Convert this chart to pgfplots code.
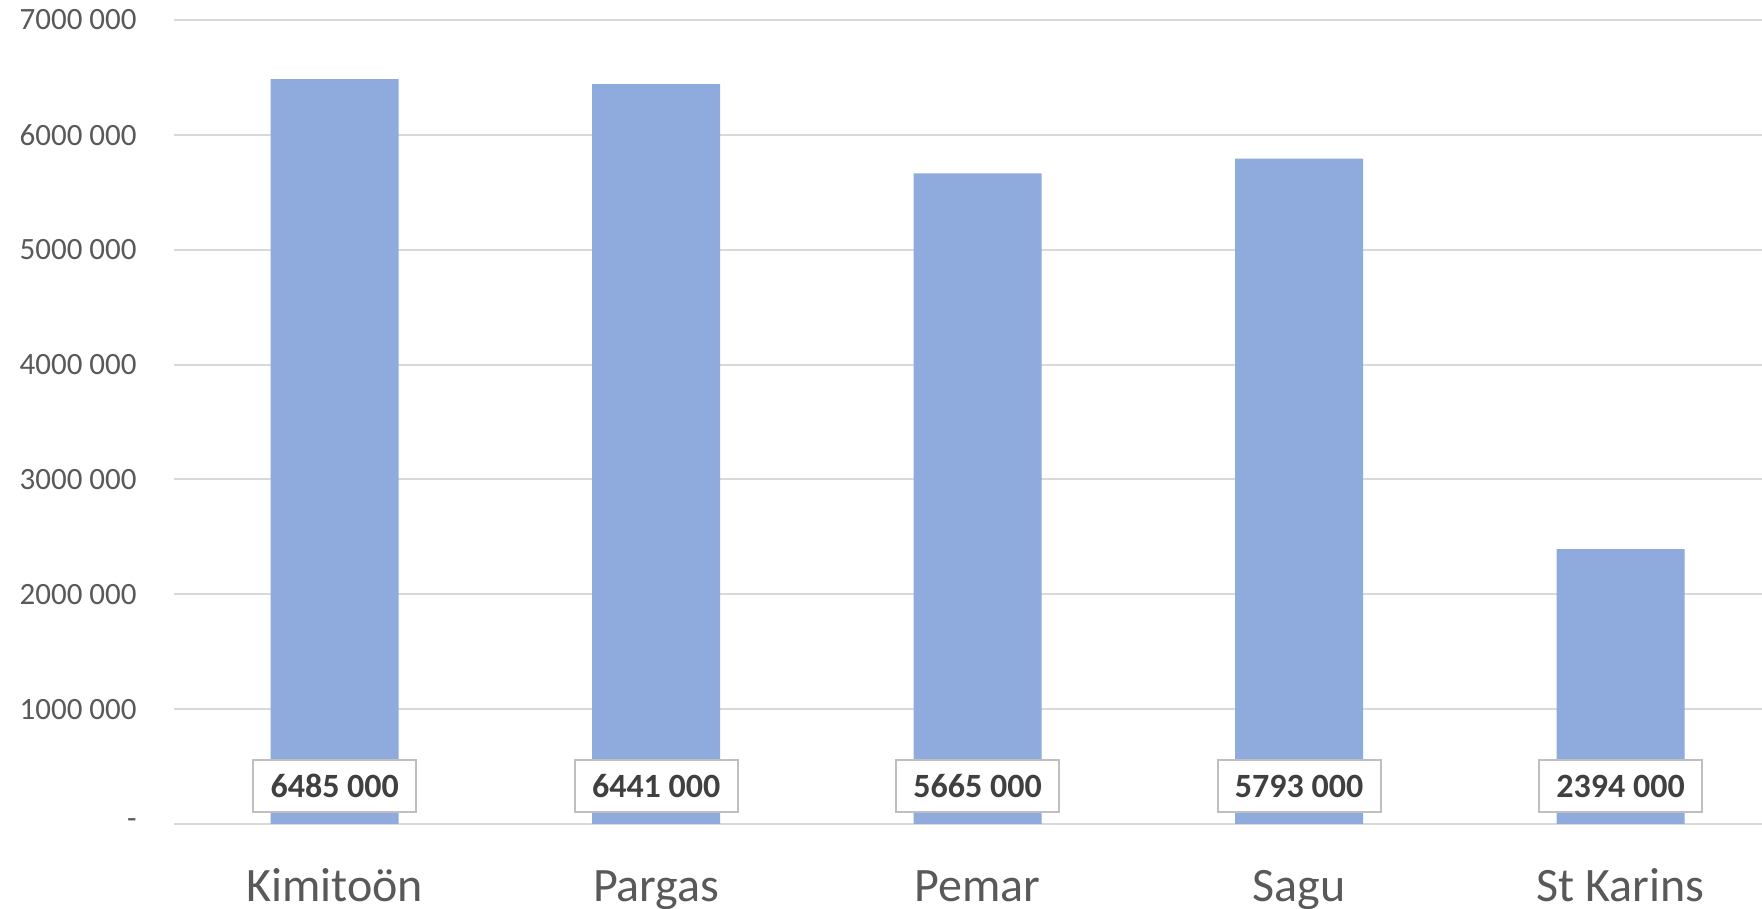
\documentclass[border=0pt]{standalone}
\usepackage{fontspec}
\setmainfont{Carlito}
\usepackage{pgfplots}
\usepackage{pgfplotstable}
\pgfplotsset{compat=1.18}
\definecolor{barblue}{HTML}{8FAADC}
\definecolor{gridgray}{HTML}{D9D9D9}
\definecolor{ticktext}{HTML}{595959}
\definecolor{labeltext}{HTML}{404040}
\definecolor{boxgray}{HTML}{BFBFBF}
\pgfplotstableread[col sep=comma]{
x,y,label
0,6485000,6485 000
1,6441000,6441 000
2,5665000,5665 000
3,5793000,5793 000
4,2394000,2394 000
}\datatable
\begin{document}
\begin{tikzpicture}
\begin{axis}[
  at={(0,0)}, anchor=south west,
  scale only axis, width=794pt, height=402pt,
  xmin=-0.5, xmax=4.44, ymin=0, ymax=7000000,
  axis x line*=bottom, axis y line*=left,
  x axis line style={draw=gridgray, line width=1pt},
  y axis line style={draw=none},
  ymajorgrids, grid style={gridgray, line width=1pt},
  major tick length=0,
  scaled y ticks=false,
  ytick={0,1000000,2000000,3000000,4000000,5000000,6000000,7000000},
  yticklabels={{-\hspace{6pt}},1000 000,2000 000,3000 000,4000 000,5000 000,6000 000,7000 000},
  yticklabel style={font=\fontsize{15.5pt}{18pt}\selectfont, text=ticktext, anchor=east, inner sep=0pt, xshift=-18.5pt},
  xtick={0,1,2,3,4},
  xticklabels={Kimitoön,Pargas,Pemar,Sagu,St Karins},
  xticklabel style={font=\fontsize{24pt}{28pt}\selectfont, text=ticktext, anchor=base, yshift=-39pt},
  ybar, bar width=64pt,
]
\addplot[fill=barblue, draw=none, bar shift=0pt,
  nodes near coords,
  point meta=explicit symbolic,
  visualization depends on={rawy \as \rawy},
  every node near coord/.append style={
    shift={(axis direction cs:0,-\rawy)}, anchor=center, yshift=19pt,
    fill=white, draw=boxgray, line width=1pt,
    minimum width=81.5pt, minimum height=26pt, inner sep=0pt,
    font=\fontsize{17pt}{20pt}\selectfont\bfseries, text=labeltext}
] table[x=x, y=y, meta=label] {\datatable};
\end{axis}
\pgfresetboundingbox
\path (-87pt,-42.5pt) rectangle (794pt,412pt);
\end{tikzpicture}
\end{document}
